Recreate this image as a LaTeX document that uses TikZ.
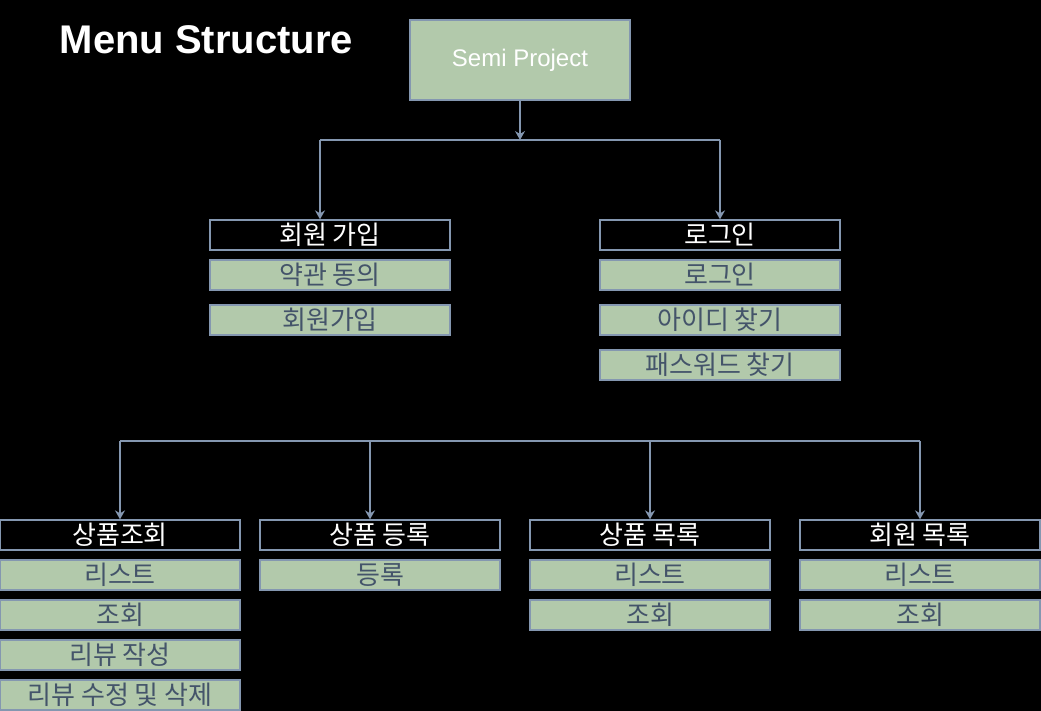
\documentclass[tikz,border=0pt]{standalone}
\usepackage{fontspec}
\setmainfont{Liberation Sans}
\newfontfamily\kr{Noto Sans CJK KR}
\usetikzlibrary{arrows.meta,calc}
\definecolor{leaf}{HTML}{B2C9AB}
\definecolor{edge}{HTML}{8497B0}
\definecolor{slate}{HTML}{44546A}
\tikzset{
  hdr/.style={draw=edge,line width=1.3pt,fill=black,minimum width=240pt,minimum height=30pt,inner sep=0pt,text=white,font=\kr\fontsize{26}{28}\selectfont},
  leafbox/.style={draw=edge,line width=1.3pt,fill=leaf,minimum width=240pt,minimum height=30pt,inner sep=0pt,text=slate,font=\kr\fontsize{26}{28}\selectfont},
  rootbox/.style={draw=edge,line width=1.3pt,fill=leaf,minimum width=220pt,minimum height=80pt,inner sep=0pt,text=white,font=\fontsize{24}{28}\selectfont},
  link/.style={draw=edge,line width=1.4pt},
  arr/.style={link,-{Stealth[length=9pt,width=10pt,inset=3pt]}}
}
\begin{document}
\begin{tikzpicture}[x=1pt,y=-1pt]
\fill[black] (0,0) rectangle (1041,711);
\useasboundingbox (0,0) rectangle (1041,711);
\node[anchor=base west,text=white,font=\bfseries\fontsize{40}{44}\selectfont,inner sep=0pt] (title) at (59.5,54) {Menu Structure};
\node[rootbox] (root) at (520,60) {Semi Project};
% upper tree
\node[hdr] (signup) at (330,235) {회원 가입};
\node[leafbox] (terms) at (330,275) {약관 동의};
\node[leafbox] (join) at (330,320) {회원가입};
\node[hdr] (login) at (720,235) {로그인};
\node[leafbox] (loginsub) at (720,275) {로그인};
\node[leafbox] (findid) at (720,320) {아이디 찾기};
\node[leafbox] (findpw) at (720,365) {패스워드 찾기};
\coordinate (j1) at (520,140);
\coordinate (j1L) at (320,140);
\coordinate (j1R) at (720,140);
\draw[arr] (root.south) -- (j1);
\draw[link] (j1L) -- (j1R);
\draw[arr] (j1L) -- (j1L |- signup.north);
\draw[arr] (j1R) -- (login.north);
% lower tree
\node[hdr] (prodview) at (120,535) {상품조회};
\node[leafbox] (pv1) at (120,575) {리스트};
\node[leafbox] (pv2) at (120,615) {조회};
\node[leafbox] (pv3) at (120,655) {리뷰 작성};
\node[leafbox] (pv4) at (120,695) {리뷰 수정 및 삭제};
\node[hdr] (prodreg) at (380,535) {상품 등록};
\node[leafbox] (pr1) at (380,575) {등록};
\node[hdr] (prodlist) at (650,535) {상품 목록};
\node[leafbox] (pl1) at (650,575) {리스트};
\node[leafbox] (pl2) at (650,615) {조회};
\node[hdr] (memlist) at (920,535) {회원 목록};
\node[leafbox] (ml1) at (920,575) {리스트};
\node[leafbox] (ml2) at (920,615) {조회};
\coordinate (busL) at (120,441);
\coordinate (busR) at (920,441);
\coordinate (busB) at (370,441);
\draw[link] (busL) -- (busR);
\draw[arr] (busL) -- (prodview.north);
\draw[arr] (busB) -- (busB |- prodreg.north);
\draw[arr] (busL -| prodlist.north) -- (prodlist.north);
\draw[arr] (busR) -- (memlist.north);
\end{tikzpicture}
\end{document}
